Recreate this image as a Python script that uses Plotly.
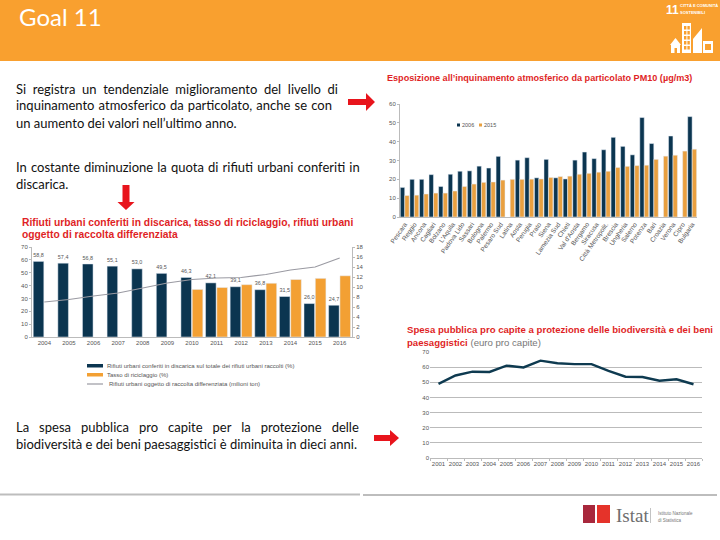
import plotly.graph_objects as go

W, H = 720, 540

# ---- PM10 chart
cities = ["Pescara", "Reggio", "Ancona", "Cagliari", "Bolzano", "L'Aquila", "Padova Lido", "Sassari",
          "Bologna", "Palermo", "Pesaro Sud", "Latina", "Aosta", "Perugia", "Prato", "Siena",
          "Lamezia Sud", "Chieti", "Val d'Aosta", "Bergamo", "Siracusa", "Città Metropolit.", "Brescia",
          "Ungheria", "Salerno", "Potenza", "Bari", "Croazia", "Verona", "Cipro", "Bulgaria"]
pm10_2006 = [15.7, 20.0, 20.0, 22.5, 16.2, 22.7, 24.3, 24.5, 27.0, 26.0, 32.2, None, 30.2, 31.5, 20.8, 30.6,
             20.8, 20.2, 30.2, 34.5, 31.0, 35.7, 42.3, 37.5, 33.0, 52.8, 39.0, None, 43.0, None, 53.3]
pm10_2015 = [11.4, 11.6, 12.2, 12.7, 12.7, 13.8, 16.2, 17.5, 18.4, 18.6, 19.6, 20.0, 20.0, 20.1, 20.2, 21.0,
             21.5, 21.7, 22.7, 23.2, 23.8, 24.3, 26.3, 26.9, 27.3, 27.5, 30.6, 32.3, 32.8, 35.0, 36.0]

# ---- Waste chart
waste_years = ["2004", "2005", "2006", "2007", "2008", "2009", "2010", "2011", "2012", "2013", "2014", "2015", "2016"]
landfill = [58.8, 57.4, 56.8, 55.1, 53.0, 49.5, 46.3, 42.1, 39.1, 36.8, 31.5, 26.0, 24.7]
recycling = [None, None, None, None, None, None, 37.0, 38.5, 40.7, 41.8, 44.7, 45.6, 47.6]
separate_mt = [7.0, 7.5, 8.2, 8.8, 9.8, 10.8, 11.5, 11.8, 11.9, 12.5, 13.4, 14.0, 15.8]

# ---- Biodiversity spending chart
spend_years = ["2001", "2002", "2003", "2004", "2005", "2006", "2007", "2008", "2009", "2010", "2011", "2012",
               "2013", "2014", "2015", "2016"]
spend = [49.0, 54.5, 57.0, 56.8, 61.0, 59.8, 64.3, 62.6, 62.0, 62.0, 57.5, 53.7, 53.5, 51.0, 52.0, 48.7]

NAVY = "#0B3550"
ORANGE = "#F3A033"
PM_ORANGE = "#E9A040"
GREY_TXT = "#555555"
RED = "#E01F26"
HEADER = "#F9A02F"


def px(x):
    return x / W


def py(y):
    return 1 - y / H


fig = go.Figure()

fig.add_bar(x=cities, y=pm10_2006, name="2006", marker_color=NAVY, width=0.46, offset=-0.47,
            showlegend=False, xaxis="x", yaxis="y")
fig.add_bar(x=cities, y=pm10_2015, name="2015", marker_color=PM_ORANGE, width=0.46, offset=0.0,
            showlegend=False, xaxis="x", yaxis="y")

fig.add_bar(x=waste_years, y=landfill, marker_color=NAVY, width=0.43, offset=-0.45, showlegend=False,
            xaxis="x2", yaxis="y2", texttemplate="%{y:.1f}", textposition="outside", cliponaxis=False,
            textfont=dict(size=7.5, color=GREY_TXT, family="Liberation Sans"))
fig.add_bar(x=waste_years, y=recycling, marker_color=ORANGE, width=0.43, offset=0.01, showlegend=False,
            xaxis="x2", yaxis="y2")
fig.add_scatter(x=waste_years, y=separate_mt, mode="lines", line=dict(color="#9A9AA2", width=1.2),
                showlegend=False, xaxis="x2", yaxis="y4")

fig.add_scatter(x=spend_years, y=spend, mode="lines", line=dict(color="#0E3A50", width=2.4),
                showlegend=False, xaxis="x3", yaxis="y3")

tick = dict(family="Liberation Sans", size=6, color=GREY_TXT)
fig.update_layout(
    width=W, height=H, margin=dict(l=0, r=0, t=0, b=0), paper_bgcolor="white", plot_bgcolor="rgba(0,0,0,0)",
    barmode="overlay", separators=",.", showlegend=False,
    font=dict(family="Liberation Sans"),
    xaxis=dict(domain=[px(400), px(697)], anchor="y", tickangle=-55, tickfont=dict(tick, size=6.5), showline=True,
               linecolor="#BBBBBB", ticks="", showgrid=False, automargin=False),
    yaxis=dict(domain=[py(217), py(104)], anchor="x", range=[0, 60], dtick=10, tickfont=tick, showline=True,
               linecolor="#BBBBBB", ticks="outside", ticklen=2, tickcolor="#BBBBBB", showgrid=False, zeroline=False, automargin=False),
    xaxis2=dict(domain=[px(32), px(352)], anchor="y2", tickfont=tick, tickangle=0, showline=True, linecolor="#BBBBBB", ticks="",
                showgrid=False, automargin=False),
    yaxis2=dict(domain=[py(337), py(247)], anchor="x2", range=[0, 70], dtick=10, tickfont=tick, showline=True,
                linecolor="#BBBBBB", ticks="outside", ticklen=2, tickcolor="#BBBBBB", showgrid=False, zeroline=False, automargin=False),
    yaxis4=dict(overlaying="y2", side="right", anchor="x2", range=[0, 18], dtick=2, tickfont=tick, showline=True,
                linecolor="#BBBBBB", ticks="outside", ticklen=2, tickcolor="#BBBBBB", showgrid=False, zeroline=False, automargin=False),
    xaxis3=dict(domain=[px(430), px(702)], anchor="y3", range=[-0.5, 15.5], tickangle=0, tickfont=tick, showline=True,
                linecolor="#BBBBBB", ticks="outside", tickson="boundaries", ticklen=2, tickcolor="#BBBBBB",
                showgrid=False, automargin=False),
    yaxis3=dict(domain=[py(458), py(352)], anchor="x3", range=[0, 70], dtick=10, tickfont=tick, showline=False,
                showgrid=True, gridcolor="#BBBBBB", gridwidth=1, zeroline=False, automargin=False),
)

shapes = []
annots = []


def text(x, y, s, size=12, color="#222222", family="Lato", bold=False, anchor="left"):
    annots.append(dict(x=px(x), y=py(y), xref="paper", yref="paper", text=f"<b>{s}</b>" if bold else s, showarrow=False,
                       xanchor=anchor, yanchor="middle", align="left", font=dict(size=size, color=color, family=family)))


def rect(x0, y0, x1, y1, color):
    shapes.append(dict(type="rect", xref="paper", yref="paper", x0=px(x0), x1=px(x1), y0=py(y0), y1=py(y1),
                       fillcolor=color, line=dict(width=0), layer="below"))


def poly(points, color):
    path = "M" + " L".join(f"{px(a):.5f},{py(b):.5f}" for a, b in points) + " Z"
    shapes.append(dict(type="path", xref="paper", yref="paper", path=path, fillcolor=color, line=dict(width=0)))


def arrow_right(x0, x1, y, half):
    head = x1 - 9
    poly([(x0, y - 3), (head, y - 3), (head, y - half), (x1, y), (head, y + half), (head, y + 3), (x0, y + 3)], "#E8141C")


def arrow_down(x, y0, y1):
    head = y1 - 8
    poly([(x - 3.5, y0), (x + 3.5, y0), (x + 3.5, head), (x + 8.5, head), (x, y1), (x - 8.5, head), (x - 3.5, head)], "#E8141C")


# header band
rect(0, 0, 720, 61, HEADER)
text(17, 17, "Goal 11", size=24, color="white", family="Lato")
text(664, 10, "11", size=12, color="white", family="Liberation Sans", bold=True)
text(678, 6, "CITTÀ E COMUNITÀ", size=4, color="white", family="Liberation Sans", bold=True)
text(678, 12, "SOSTENIBILI", size=4, color="white", family="Liberation Sans", bold=True)
# city icon
rect(682, 23, 691, 53, "white")
for r in range(5):
    for c in range(2):
        rect(684 + c * 3.4, 26 + r * 5, 686.4 + c * 3.4, 29.5 + r * 5, HEADER)
poly([(693, 53), (693, 39), (702, 28), (702, 53)], "white")
rect(703, 41, 713, 53, "white")
rect(705, 44, 711, 50, HEADER)
poly([(670, 45), (675.5, 38), (681, 45)], "white")
rect(671, 45, 680, 53, "white")
rect(674.5, 48, 677, 53, HEADER)

# body text (lines justified with extra spacing between the words)
N = "\u00a0"
HAIR = "\u00a0\u200a"
body = [
    (14, 89, "Si registra un tendenziale miglioramento del livello di".replace(" ", N + N)),
    (14, 105, "inquinamento atmosferico da particolato, anche se con".replace(" ", HAIR)),
    (14, 123, "un aumento dei valori nell’ultimo anno."),
    (14, 167, "In costante diminuzione la quota di rifiuti urbani conferiti in".replace(" ", HAIR)),
    (14, 184, "discarica."),
    (14, 427, "La spesa pubblica pro capite per la protezione delle".replace(" ", N + N + N)),
    (14, 444, "biodiversità e dei beni paesaggistici è diminuita in dieci anni."),
]
for x, y, s in body:
    text(x, y, s, size=13, color="#111111")

# chart titles
text(385, 78, "Esposizione all’inquinamento atmosferico da particolato PM10 (µg/m3)", size=9.1, color=RED,
     family="Liberation Sans", bold=True)
text(20, 222, "Rifiuti urbani conferiti in discarica, tasso di riciclaggio, rifiuti urbani", size=10.3, color=RED,
     family="Liberation Sans", bold=True)
text(20, 234, "oggetto di raccolta differenziata", size=10.3, color=RED, family="Liberation Sans", bold=True)
text(405, 329, "Spesa pubblica pro capite a protezione delle biodiversità e dei beni", size=9.6, color=RED,
     family="Liberation Sans", bold=True)
annots.append(dict(x=px(405), y=py(342), xref="paper", yref="paper", showarrow=False, xanchor="left", yanchor="middle",
                   text="<b>paesaggistici</b> <span style='color:#777777'>(euro pro capite)</span>",
                   font=dict(size=9.6, color=RED, family="Liberation Sans")))

# PM10 legend
rect(457, 123.5, 460, 126.5, NAVY)
text(460, 125, "2006", size=5.5, color=GREY_TXT, family="Liberation Sans")
rect(479, 123.5, 482, 126.5, PM_ORANGE)
text(482, 125, "2015", size=5.5, color=GREY_TXT, family="Liberation Sans")

# waste legend
rect(87, 364, 103, 367.5, NAVY)
text(105, 366, "Rifiuti urbani conferiti in discarica sul totale dei rifiuti urbani raccolti (%)", size=6, color=GREY_TXT,
     family="Liberation Sans")
rect(87, 373, 103, 376.5, ORANGE)
text(105, 375, "Tasso di riciclaggio (%)", size=6, color=GREY_TXT, family="Liberation Sans")
shapes.append(dict(type="line", xref="paper", yref="paper", x0=px(87), x1=px(103), y0=py(384), y1=py(384),
                   line=dict(color="#9A9AA2", width=1.2)))
text(107, 384, "Rifiuti urbani oggetto di raccolta differenziata (milioni ton)", size=6, color=GREY_TXT,
     family="Liberation Sans")

# arrows
arrow_right(348, 375, 102, 9)
arrow_right(374, 399, 438, 8)
arrow_down(126, 185, 210)

# footer
rect(0, 493.5, 360, 495.5, "#BDBDBD")
rect(363, 494, 717, 496, "#BDBDBD")
rect(583, 505, 595, 523, "#A8283C")
rect(597, 505, 610, 523, "#E5332A")
text(614, 515, "Istat", size=19, color="#6E6E6E", family="Liberation Serif")
rect(650, 508, 650.7, 523, "#AAAAAA")
text(656, 513, "Istituto Nazionale", size=4.5, color="#777777", family="Liberation Sans")
text(656, 520, "di Statistica", size=4.5, color="#777777", family="Liberation Sans")

fig.update_layout(shapes=shapes, annotations=annots)
fig.write_html("out.html", config=dict(displayModeBar=False), post_script="document.body.style.margin='0';")
